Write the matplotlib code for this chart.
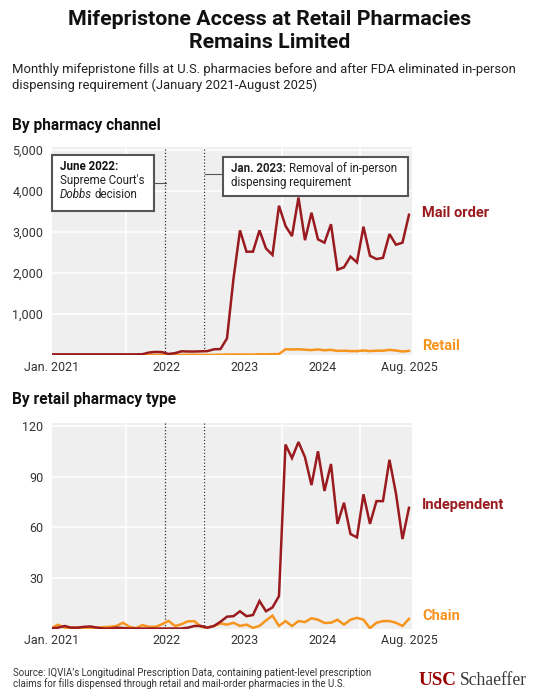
import matplotlib
matplotlib.use("Agg")
import matplotlib.pyplot as plt
from matplotlib.patches import Rectangle
from matplotlib.lines import Line2D
from matplotlib.ticker import FuncFormatter

# ---------------- data ----------------
months = list(range(56))  # Jan 2021 (0) ... Aug 2025 (55)
x_tick_pos = [0, 17.75, 29.75, 41.75, 55]
x_tick_labels = ["Jan. 2021", "2022", "2023", "2024", "Aug. 2025"]
event_pos = [17.5, 23.5]          # June 2022 (Dobbs), Jan. 2023 (rule change)
year_grid = [11.5, 23.5, 35.5, 47.5]

mail_order = [15, 15, 15, 15, 15, 15, 15, 15, 15, 15, 15, 15, 15, 15, 20,
              60, 75, 70, 25, 45, 90, 85, 85, 90, 95,
              140, 145, 405, 1860, 3040, 2520, 2520, 3040, 2600, 2440,
              3640, 3150, 2900, 3840, 2800, 3470, 2820, 2740, 3190, 2080,
              2140, 2400, 2260, 3130, 2420, 2340, 2370, 2950, 2690, 2740, 3420]
retail = [2, 3, 3, 2, 2, 2, 2, 2, 2, 2, 3, 4, 2, 1, 3, 2, 2, 3, 5, 3, 4, 5, 6, 3, 2,
          4, 8, 10, 12, 13, 11, 10, 19, 16, 21, 22,
          140, 135, 140, 130, 120, 135, 115, 125, 100, 105, 95, 95, 110, 95, 105,
          105, 125, 110, 85, 100]
independent = [0, 0.5, 1.5, 0.5, 0.5, 1, 1.2, 0.5, 0, 0, 0.5, 0.3, 0, 0, 0, 0, 0, 0,
               0, 0, 0, 0.5, 1.5, 1.5, 0.5, 1.5, 4, 7, 7.3, 10.2, 7.3, 8, 16.3, 10.2,
               12.5, 19.2, 109, 101, 110.5, 101.5, 85, 105, 81.5, 97.5, 62, 74.5,
               56, 54, 79.5, 62, 75.5, 75.5, 100, 80, 53, 71.5]
chain = [0.3, 2.2, 0.5, 0.5, 0.5, 0.5, 0.5, 0.5, 0.8, 1.0, 1.5, 3.4, 1.0, 0.2, 2.0,
         1.0, 1.0, 2.5, 4.5, 1.5, 2.5, 4.3, 4.3, 1.0, 0.5, 1.5, 3.0, 2.3, 3.4, 1.5,
         2.3, 0.4, 1.5, 4.8, 7.6, 1.5, 4.4, 1.5, 4.4, 3.8, 6.1, 5.2, 3.3, 3.4, 5.2,
         2.3, 5.2, 6.3, 5.2, 0.2, 3.4, 4.4, 4.4, 3.4, 1.5, 5.7]

top_yticks = [1000, 2000, 3000, 4000, 5000]
bot_yticks = [30, 60, 90, 120]

# ---------------- style ----------------
W, H = 539, 700
RED = "#9a1b1f"
ORANGE = "#f7941d"
BG = "#efefef"
TXT = "#222222"
FONT = ["Roboto", "DejaVu Sans"]
plt.rcParams["font.family"] = FONT

fig = plt.figure(figsize=(W / 100, H / 100), dpi=100)
fig.patch.set_facecolor("white")


def fx(px):
    return px / W


def fy(py):
    return 1 - py / H


def renderer():
    return fig.canvas.get_renderer()


def fit(t, width_px):
    w = t.get_window_extent(renderer()).width
    t.set_fontsize(t.get_fontsize() * width_px / w)
    return t


def runs(pieces, x_px, y_px, size, color=TXT, gap=0.26):
    x = x_px
    for s, kw in pieces:
        t = fig.text(fx(x), fy(y_px), s, fontsize=size, color=color,
                     ha="left", va="center", **kw)
        bb = t.get_window_extent(renderer())
        x = bb.x1 + gap * size * 100 / 72


def make_axes(top_px, bottom_px, ylim, yticks):
    ax = fig.add_axes([fx(51.5), fy(bottom_px), (411.7 - 51.5) / W,
                       (bottom_px - top_px) / H])
    ax.set_facecolor(BG)
    for s in ax.spines.values():
        s.set_visible(False)
    ax.set_xlim(0, 55.42)
    ax.set_ylim(*ylim)
    ax.set_yticks(yticks)
    ax.yaxis.set_major_formatter(FuncFormatter(lambda v, p: f"{int(v):,}"))
    ax.set_xticks(x_tick_pos)
    ax.set_xticklabels(x_tick_labels)
    ax.tick_params(length=0, labelsize=9, labelcolor="#333333")
    ax.tick_params(axis="x", pad=4)
    ax.tick_params(axis="y", pad=6)
    ax.grid(axis="y", color="white", lw=1.1)
    ax.set_axisbelow(True)
    for g in year_grid:
        ax.axvline(g, color="white", lw=1.1, zorder=0.5)
    for e in event_pos:
        ax.axvline(e, color="#333333", lw=0.9, ls=(0, (1, 1.6)), zorder=1)
    return ax


# ---------------- top panel ----------------
ax1 = make_axes(147.3, 355, (0, 5066), top_yticks)
ax1.plot(months, retail, color=ORANGE, lw=1.8, zorder=3, solid_joinstyle="miter")
ax1.plot(months, mail_order, color=RED, lw=1.8, zorder=4, solid_joinstyle="miter")

# ---------------- bottom panel ----------------
ax2 = make_axes(423.3, 628.5, (0, 121.6), bot_yticks)
ax2.plot(months, chain, color=ORANGE, lw=1.8, zorder=3, solid_joinstyle="miter")
ax2.plot(months, independent, color=RED, lw=1.8, zorder=4, solid_joinstyle="miter")

# ---------------- titles ----------------
t = fig.text(0.5, fy(19.5), "Mifepristone Access at Retail Pharmacies", ha="center",
             va="center", fontsize=15, fontweight="bold", color="#111111")
fit(t, 405)
size_title = t.get_fontsize()
fig.text(0.5, fy(43), "Remains Limited", ha="center", va="center",
         fontsize=size_title, fontweight="bold", color="#111111")

s = fig.text(fx(12), fy(69.5), "Monthly mifepristone fills at U.S. pharmacies before and after FDA eliminated in-person",
             ha="left", va="center", fontsize=10, color=TXT)
fit(s, 503)
fig.text(fx(12), fy(85.5), "dispensing requirement (January 2021-August 2025)", ha="left",
         va="center", fontsize=s.get_fontsize(), color=TXT)

h1 = fig.text(fx(12), fy(125.5), "By pharmacy channel", ha="left", va="center",
              fontsize=11, fontweight="bold", color="#111111")
fit(h1, 150)
fig.text(fx(12), fy(399.5), "By retail pharmacy type", ha="left", va="center",
         fontsize=h1.get_fontsize(), fontweight="bold", color="#111111")

# ---------------- series labels ----------------
lab = fig.text(fx(422), fy(213), "Mail order", ha="left", va="center", fontsize=11,
               fontweight="bold", color=RED)
fit(lab, 67)
ls = lab.get_fontsize()
fig.text(fx(422), fy(346.5), "Retail", ha="left", va="center", fontsize=ls,
         fontweight="bold", color=ORANGE)
fig.text(fx(422), fy(505.5), "Independent", ha="left", va="center", fontsize=ls,
         fontweight="bold", color=RED)
fig.text(fx(422), fy(616.5), "Chain", ha="left", va="center", fontsize=ls,
         fontweight="bold", color=ORANGE)

# ---------------- annotation boxes ----------------
BOXC = "#555555"
for (x0, y0, x1, y1) in [(52.2, 155, 153.6, 210.7), (223.4, 156.7, 408, 195.7)]:
    fig.patches.append(Rectangle((fx(x0), fy(y1)), (x1 - x0) / W, (y1 - y0) / H,
                                 transform=fig.transFigure, facecolor="white",
                                 edgecolor=BOXC, lw=1.5, zorder=5))
fig.lines.append(Line2D([fx(153.6), fx(165.6)], [fy(182.7), fy(182.7)],
                        transform=fig.transFigure, color=BOXC, lw=0.8, zorder=5))
fig.lines.append(Line2D([fx(204.5), fx(223.4)], [fy(174.3), fy(174.3)],
                        transform=fig.transFigure, color=BOXC, lw=0.8, zorder=5))

a = fig.text(fx(59.5), fy(180.7), "Supreme Court's", ha="left", va="center",
             fontsize=9, color=TXT, zorder=6)
fit(a, 85.5)
asz = a.get_fontsize()
fig.text(fx(59.5), fy(166.7), "June 2022:", ha="left", va="center", fontsize=asz,
         fontweight="bold", color="#111111", zorder=6)
runs([("Dobbs", dict(style="italic", zorder=6)), ("decision", dict(zorder=6))],
     59.5, 194.3, asz)
runs([("Jan. 2023:", dict(fontweight="bold", zorder=6)),
      ("Removal of in-person", dict(zorder=6))], 231.3, 168.3, asz)
fig.text(fx(231.3), fy(182.3), "dispensing requirement", ha="left", va="center",
         fontsize=asz, color=TXT, zorder=6)

# ---------------- source & logo ----------------
src = fig.text(fx(13), fy(673), "Source: IQVIA\u2019s Longitudinal Prescription Data, containing patient-level prescription",
               ha="left", va="center", fontsize=7.5, color="#333333")
fit(src, 361)
fig.text(fx(13), fy(684), "claims for fills dispensed through retail and mail-order pharmacies in the U.S.",
         ha="left", va="center", fontsize=src.get_fontsize(), color="#333333")

u = fig.text(fx(419), fy(685), "USC", ha="left", va="baseline", fontsize=14,
             fontweight="bold", family=["Liberation Serif", "DejaVu Serif"],
             color="#990000")
fit(u, 38)
sc = fig.text(fx(460), fy(685), "Schaeffer", ha="left", va="baseline", fontsize=14,
              family=["Liberation Serif", "DejaVu Serif"], color="#3a3a3a")
fit(sc, 67.5)

fig.savefig("out.png", dpi=100, facecolor="white")
